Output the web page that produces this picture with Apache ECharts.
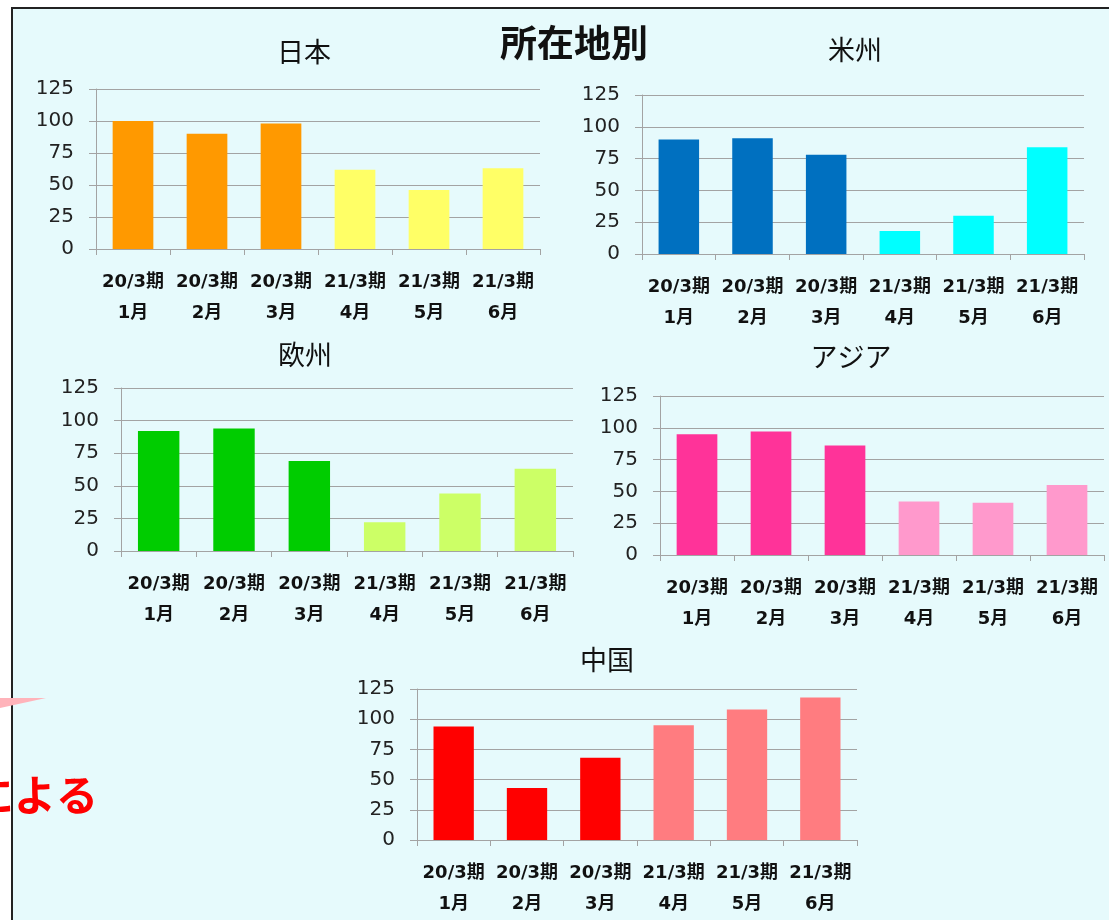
<!DOCTYPE html>
<html>
<head>
<meta charset="utf-8">
<script src="https://cdn.jsdelivr.net/npm/echarts@6/dist/echarts.min.js"></script>
<style>
html,body{margin:0;padding:0;background:#fff;}
#c{width:1109px;height:920px;}
</style>
</head>
<body>
<div id="c"></div>
<script>
// ---- data ----
const periods = ['20/3期','20/3期','20/3期','21/3期','21/3期','21/3期'];
const months = ['1月','2月','3月','4月','5月','6月'];
const regionNames = ['日本','米州','欧州','アジア','中国'];
const japanValues = [100, 90, 98, 62, 46, 63];
const americasValues = [90, 91, 78, 18, 30, 84];
const europeValues = [92, 94, 69, 22, 44, 63];
const asiaValues = [95, 97, 86, 42, 41, 55];
const chinaValues = [94, 43, 68, 95, 108, 118];
const yTicks = {min: 0, max: 125, interval: 25};
const mainTitle = '所在地別';
const sideText = 'による';

// ---- styles (kept separate from data) ----
const prevColors = ['#FF9900', '#0070C0', '#00CC00', '#FF3399', '#FF0000'];
const currColors = ['#FFFF66', '#00FFFF', '#CCFF66', '#FF99CC', '#FF7C80'];
const grids = [
  {left: 96, top: 89, width: 444, height: 160},
  {left: 642, top: 95, width: 442, height: 159},
  {left: 121, top: 388, width: 452, height: 163},
  {left: 660, top: 396, width: 444, height: 159},
  {left: 417, top: 689, width: 440, height: 157}
];
const titlePos = [[299, 33], [850, 31], [300, 336], [846, 338], [602, 641]];
const allValues = [japanValues, americasValues, europeValues, asiaValues, chinaValues];

const categories = periods.map((p, i) => p + '\n' + months[i]);
const axisGray = '#A3A3A3';

const option = {
  backgroundColor: '#ffffff',
  animation: false,
  title: [
    {text: mainTitle, left: 569, top: 19, textAlign: 'center',
     textStyle: {fontFamily: 'Noto Sans CJK JP', fontWeight: 'bold', fontSize: 37, color: '#111'}}
  ].concat(regionNames.map((n, i) => ({
    text: n, left: titlePos[i][0], top: titlePos[i][1], textAlign: 'center',
    textStyle: {fontFamily: 'Noto Sans CJK JP', fontWeight: 'normal', fontSize: 27, color: '#111'}
  }))),
  graphic: {elements: [
    {type: 'rect', z: -100, silent: true,
     shape: {x: 12, y: 8, width: 1120, height: 940},
     style: {fill: '#E6FAFC', stroke: '#222', lineWidth: 2}},
    {type: 'polygon', z: 100, silent: true,
     shape: {points: [[0, 698], [46, 698], [0, 708]]},
     style: {fill: '#FFB3BA'}},
    {type: 'text', z: 100, silent: true, x: 98, y: 795,
     style: {text: sideText, fill: '#FF0000', font: 'bold 42px "Noto Sans CJK JP"',
             align: 'right', verticalAlign: 'middle'}}
  ]},
  grid: grids.map(g => Object.assign({containLabel: false}, g)),
  xAxis: grids.map((g, i) => ({
    type: 'category', gridIndex: i, data: categories,
    axisLine: {show: true, lineStyle: {color: axisGray, width: 1}},
    axisTick: {show: true, length: 6, lineStyle: {color: axisGray}},
    axisLabel: {interval: 0, margin: 18, lineHeight: 31, fontSize: 18, fontWeight: 'bold',
                fontFamily: 'DejaVu Sans, Noto Sans CJK JP', color: '#111'},
    splitLine: {show: false}
  })),
  yAxis: grids.map((g, i) => ({
    type: 'value', gridIndex: i, min: yTicks.min, max: yTicks.max, interval: yTicks.interval,
    axisLine: {show: true, lineStyle: {color: axisGray, width: 1}},
    axisTick: {show: true, length: 7, lineStyle: {color: axisGray}},
    axisLabel: {margin: 22, fontSize: 20, fontFamily: 'DejaVu Sans', color: '#222', padding: [3, 0, 0, 0]},
    splitLine: {show: true, lineStyle: {color: axisGray, width: 1}}
  })),
  series: allValues.map((vals, i) => ({
    type: 'bar', xAxisIndex: i, yAxisIndex: i, barWidth: '55%',
    data: vals.map((v, j) => ({value: v, itemStyle: {color: j < 3 ? prevColors[i] : currColors[i]}}))
  }))
};

const chart = echarts.init(document.getElementById('c'), null, {renderer: 'canvas'});
chart.setOption(option);
</script>
</body>
</html>
